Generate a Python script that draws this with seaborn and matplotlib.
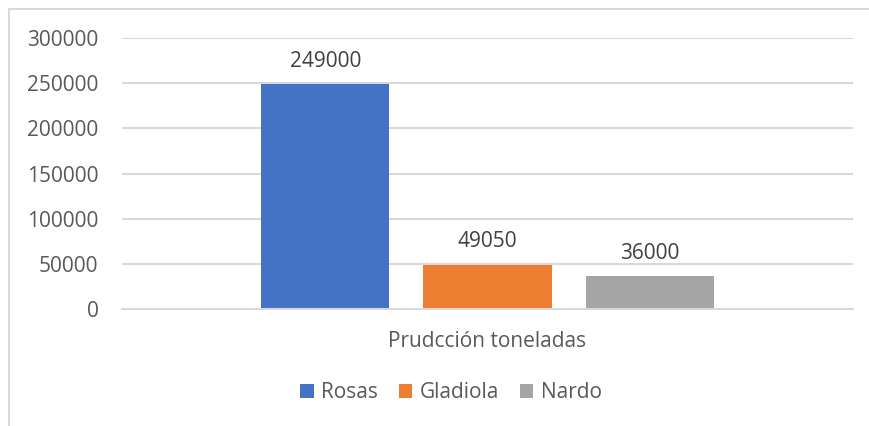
import matplotlib
matplotlib.use("Agg")
import matplotlib.pyplot as plt
from matplotlib.lines import Line2D
from matplotlib.patches import Patch
import pandas as pd
import seaborn as sns

# Production data (tonnes) by flower type
categoria = ["Prudcción toneladas"]
series = ["Rosas", "Gladiola", "Nardo"]
valores = [249000, 49050, 36000]
colores = ["#4472C4", "#ED7D31", "#A5A5A5"]
yticks = [0, 50000, 100000, 150000, 200000, 250000, 300000]

df = pd.DataFrame({
    "categoria": categoria * len(series),
    "serie": series,
    "valor": valores,
})

sns.set_theme(style="white")
plt.rcParams["font.family"] = ["Open Sans", "DejaVu Sans"]

TXT = "#595959"
GRID = "#D9D9D9"

fig = plt.figure(figsize=(8.70, 4.26), dpi=100)
ax = fig.add_axes([122 / 870, 1 - 309 / 426, (853 - 122) / 870, (309 - 38) / 426])

sns.barplot(
    data=df, x="categoria", y="valor", hue="serie", hue_order=series,
    palette=colores, saturation=1, width=0.665, gap=0.21,
    linewidth=0, edgecolor="none", legend=False, ax=ax,
)

ax.set_ylim(0, 300000)
ax.set_xlim(-0.5, 0.5)
ax.set_yticks(yticks)
ax.set_yticklabels([str(v) for v in yticks])
ax.yaxis.grid(True, color=GRID, linewidth=1.5)
ax.set_axisbelow(True)
for s in ["top", "right", "left"]:
    ax.spines[s].set_visible(False)
ax.spines["bottom"].set_color(GRID)
ax.spines["bottom"].set_linewidth(1.5)
ax.tick_params(axis="both", length=0, labelsize=15, labelcolor=TXT)
ax.tick_params(axis="y", pad=17)
ax.tick_params(axis="x", pad=16)
ax.set_xlabel("")
ax.set_ylabel("")

for cont in ax.containers:
    ax.bar_label(cont, fmt="%d", padding=9, fontsize=15, color="#404040")

handles = [Patch(facecolor=c, edgecolor="none") for c in colores]
fig.legend(
    handles, series, loc="center", bbox_to_anchor=(451 / 870, 1 - 392.5 / 426),
    ncol=3, frameon=False, fontsize=15, labelcolor=TXT,
    handlelength=0.65, handleheight=0.65, handletextpad=0.35,
    columnspacing=1.0,
)

# Chart frame (top and left edges)
fig.add_artist(Line2D([9 / 870, 1], [1 - 9 / 426, 1 - 9 / 426],
                      transform=fig.transFigure, color=GRID, linewidth=1.5))
fig.add_artist(Line2D([9 / 870, 9 / 870], [0, 1 - 9 / 426],
                      transform=fig.transFigure, color=GRID, linewidth=1.5))

fig.savefig("out.png", dpi=100, facecolor="white")
